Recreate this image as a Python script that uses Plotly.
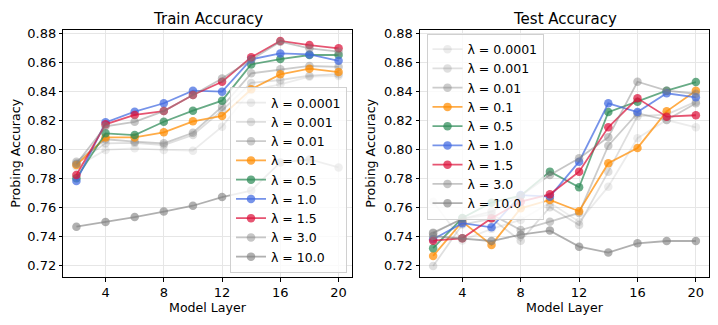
import plotly.graph_objects as go

layers = [2, 4, 6, 8, 10, 12, 14, 16, 18, 20]
lambdas = ["0.0001", "0.001", "0.01", "0.1", "0.5", "1.0", "1.5", "3.0", "10.0"]

train_l0001 = [0.788, 0.7996, 0.8007, 0.7996, 0.7991, 0.8157, 0.841, 0.845, 0.8503, 0.8507]
train_l001 = [0.790, 0.8042, 0.8045, 0.8030, 0.8100, 0.8270, 0.846, 0.848, 0.851, 0.852]
train_l01 = [0.7915, 0.807, 0.8053, 0.8042, 0.8115, 0.8295, 0.8526, 0.8554, 0.8577, 0.8571]
train_l1 = [0.7892, 0.8083, 0.8083, 0.8118, 0.8194, 0.8231, 0.8416, 0.8519, 0.8558, 0.8535]
train_l5 = [0.780, 0.8111, 0.8099, 0.8191, 0.8268, 0.8337, 0.8588, 0.8625, 0.8653, 0.8653]
train_l10 = [0.7781, 0.8187, 0.8261, 0.8319, 0.8406, 0.8399, 0.8623, 0.8664, 0.8657, 0.8613]
train_l15 = [0.7823, 0.8173, 0.8238, 0.8265, 0.8376, 0.8468, 0.8637, 0.875, 0.8722, 0.8699]
train_l30 = [0.790, 0.816, 0.8191, 0.8265, 0.8376, 0.8491, 0.862, 0.8745, 0.8699, 0.8676]
train_l100 = [0.7465, 0.7497, 0.7532, 0.757, 0.761, 0.767, 0.7715, 0.791, 0.793, 0.7875]

test_l0001 = [0.7638, 0.737, 0.745, 0.7512, 0.763, 0.750, 0.7742, 0.8077, 0.8203, 0.8153]
test_l001 = [0.7193, 0.748, 0.752, 0.7368, 0.760, 0.7477, 0.7846, 0.823, 0.824, 0.833]
test_l01 = [0.742, 0.752, 0.755, 0.7442, 0.750, 0.756, 0.8025, 0.825, 0.8203, 0.8319]
test_l1 = [0.7263, 0.750, 0.7339, 0.7592, 0.765, 0.7572, 0.7904, 0.801, 0.8263, 0.8406]
test_l5 = [0.7316, 0.7525, 0.7631, 0.768, 0.7846, 0.7738, 0.8258, 0.833, 0.8406, 0.8466]
test_l10 = [0.7378, 0.7489, 0.7461, 0.7684, 0.7673, 0.7915, 0.8319, 0.8258, 0.8388, 0.836]
test_l15 = [0.7368, 0.7385, 0.7523, 0.7638, 0.7689, 0.7846, 0.8153, 0.8353, 0.8226, 0.8236]
test_l30 = [0.7424, 0.752, 0.757, 0.768, 0.7823, 0.7938, 0.8084, 0.8468, 0.8406, 0.8385]
test_l100 = [0.740, 0.7385, 0.7366, 0.741, 0.7438, 0.7327, 0.7286, 0.735, 0.7366, 0.7366]

train_series = [train_l0001, train_l001, train_l01, train_l1, train_l5, train_l10, train_l15, train_l30, train_l100]
test_series = [test_l0001, test_l001, test_l01, test_l1, test_l5, test_l10, test_l15, test_l30, test_l100]

colors = [
    "rgba(128,128,128,0.15)",
    "rgba(128,128,128,0.25)",
    "rgba(128,128,128,0.40)",
    "rgba(255,140,0,0.72)",
    "rgba(46,139,87,0.72)",
    "rgba(65,105,225,0.72)",
    "rgba(220,20,60,0.72)",
    "rgba(128,128,128,0.45)",
    "rgba(128,128,128,0.62)",
]

W, H = 718, 325
OFF = 8  # page body margin offset
FONT = "DejaVu Sans"

fig = go.Figure()

for i, lam in enumerate(lambdas):
    fig.add_trace(go.Scatter(
        x=layers, y=train_series[i], mode="lines+markers",
        name=f"λ = {lam}", xaxis="x", yaxis="y", legend="legend",
        line=dict(color=colors[i], width=1.8),
        marker=dict(color=colors[i], size=8.5),
    ))
for i, lam in enumerate(lambdas):
    fig.add_trace(go.Scatter(
        x=layers, y=test_series[i], mode="lines+markers",
        name=f"λ = {lam}", xaxis="x2", yaxis="y2", legend="legend2",
        line=dict(color=colors[i], width=1.8),
        marker=dict(color=colors[i], size=8.5),
    ))

def px(x):
    return (x - OFF) / W

def py(y):
    return (H - (y - OFF)) / H

left1, right1 = 63.3, 351.7
left2, right2 = 420.0, 709.0
top, bottom = 29.7, 277.0

xr = [1.1, 20.9]
yr = [0.7117, 0.8828]

def xaxis(dom, anchor):
    return dict(
        domain=dom, anchor=anchor, range=xr, tickvals=[4, 8, 12, 16, 20],
        automargin=False,
        showgrid=True, gridcolor="#e6e6e6", gridwidth=0.8, zeroline=False,
        showline=True, linecolor="black", linewidth=1, mirror=True,
        ticks="outside", ticklen=3.5, tickwidth=1, tickcolor="black",
        tickfont=dict(family=FONT, size=13, color="black"),
        title=dict(text="Model Layer", font=dict(family=FONT, size=12.6, color="black"), standoff=4),
    )

def yaxis(anchor):
    return dict(
        domain=[py(bottom), py(top)], anchor=anchor, range=yr,
        automargin=False,
        tickvals=[0.72, 0.74, 0.76, 0.78, 0.80, 0.82, 0.84, 0.86, 0.88],
        tickformat=".2f",
        showgrid=True, gridcolor="#e6e6e6", gridwidth=0.8, zeroline=False,
        showline=True, linecolor="black", linewidth=1, mirror=True,
        ticks="outside", ticklen=3.5, tickwidth=1, tickcolor="black",
        tickfont=dict(family=FONT, size=13, color="black"),
        title=dict(text="Probing Accuracy", font=dict(family=FONT, size=12.6, color="black"), standoff=5),
    )

legend_common = dict(
    bgcolor="rgba(255,255,255,0.8)", bordercolor="#d0d0d0", borderwidth=1,
    font=dict(family=FONT, size=12.5, color="black"),
    xref="paper", yref="paper", itemwidth=30, tracegroupgap=0,
)

fig.update_layout(
    width=W, height=H,
    margin=dict(l=0, r=0, t=0, b=0, autoexpand=False),
    paper_bgcolor="white", plot_bgcolor="white",
    font=dict(family=FONT, size=12, color="black"),
    xaxis=xaxis([px(left1), px(right1)], "y"),
    yaxis=yaxis("x"),
    xaxis2=xaxis([px(left2), px(right2)], "y2"),
    yaxis2=yaxis("x2"),
    legend=dict(x=px(230), y=py(273), xanchor="left", yanchor="bottom", **legend_common),
    legend2=dict(x=px(426.5), y=py(33.5), xanchor="left", yanchor="top", **legend_common),
    annotations=[
        dict(text="Train Accuracy", x=px((left1 + right1) / 2), y=py(19),
             xref="paper", yref="paper", showarrow=False, xanchor="center", yanchor="middle",
             font=dict(family=FONT, size=15, color="black")),
        dict(text="Test Accuracy", x=px((left2 + right2) / 2), y=py(19),
             xref="paper", yref="paper", showarrow=False, xanchor="center", yanchor="middle",
             font=dict(family=FONT, size=15, color="black")),
    ],
    showlegend=True,
)

fig.write_html("out.html")
